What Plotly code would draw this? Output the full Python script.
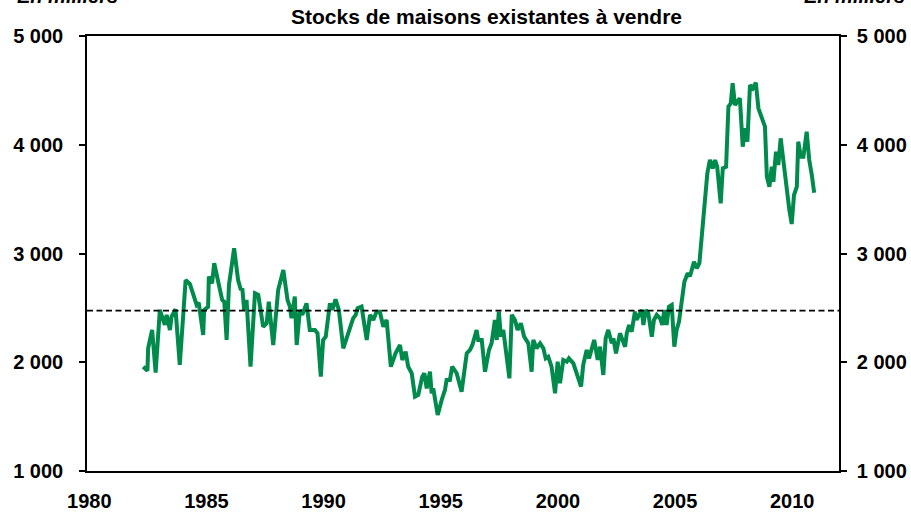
import plotly.graph_objects as go

# -----------------------------
# DATA (thousands of homes)
# -----------------------------
years = [
    1982.30, 1982.48, 1982.51, 1982.68, 1982.83, 1983.01, 1983.15, 1983.22, 1983.30, 1983.44,
    1983.51, 1983.68, 1983.86, 1984.11, 1984.29, 1984.47, 1984.58, 1984.67, 1984.86, 1984.90,
    1985.07, 1985.10, 1985.24, 1985.33, 1985.50, 1985.67, 1985.76, 1985.86, 1985.96, 1986.18,
    1986.35, 1986.47, 1986.53, 1986.61, 1986.71, 1986.88, 1987.07, 1987.21, 1987.42, 1987.57,
    1987.66, 1987.85, 1988.06, 1988.28, 1988.46, 1988.56, 1988.63, 1988.77, 1988.85, 1988.99,
    1989.09, 1989.27, 1989.41, 1989.63, 1989.74, 1989.88, 1989.98, 1990.09, 1990.27, 1990.37,
    1990.51, 1990.65, 1990.84, 1991.02, 1991.26, 1991.37, 1991.45, 1991.62, 1991.84, 1991.98,
    1992.12, 1992.26, 1992.40, 1992.55, 1992.69, 1992.87, 1993.07, 1993.26, 1993.36, 1993.50,
    1993.61, 1993.76, 1993.90, 1994.04, 1994.21, 1994.30, 1994.40, 1994.54, 1994.61, 1994.68,
    1994.87, 1995.04, 1995.18, 1995.25, 1995.39, 1995.49, 1995.68, 1995.89, 1996.11, 1996.25,
    1996.35, 1996.53, 1996.60, 1996.75, 1996.89, 1997.06, 1997.17, 1997.31, 1997.39, 1997.48,
    1997.57, 1997.67, 1997.93, 1998.03, 1998.17, 1998.28, 1998.42, 1998.56, 1998.74, 1998.88,
    1998.95, 1999.09, 1999.24, 1999.38, 1999.48, 1999.59, 1999.73, 1999.88, 1999.99, 2000.09,
    2000.23, 2000.38, 2000.47, 2000.66, 2000.80, 2000.99, 2001.08, 2001.23, 2001.33, 2001.44,
    2001.55, 2001.70, 2001.80, 2001.94, 2002.04, 2002.15, 2002.30, 2002.37, 2002.48, 2002.65,
    2002.87, 2002.94, 2003.04, 2003.15, 2003.22, 2003.29, 2003.36, 2003.48, 2003.58, 2003.65,
    2003.75, 2003.86, 2004.01, 2004.10, 2004.22, 2004.36, 2004.46, 2004.54, 2004.64, 2004.74,
    2004.86, 2004.97, 2005.07, 2005.17, 2005.28, 2005.40, 2005.54, 2005.64, 2005.81, 2005.93,
    2006.04, 2006.14, 2006.28, 2006.38, 2006.49, 2006.61, 2006.71, 2006.80, 2006.95, 2007.04,
    2007.18, 2007.28, 2007.38, 2007.46, 2007.56, 2007.66, 2007.77, 2007.89, 2007.99, 2008.09,
    2008.20, 2008.32, 2008.45, 2008.56, 2008.70, 2008.84, 2008.92, 2009.03, 2009.13, 2009.20,
    2009.31, 2009.41, 2009.51, 2009.63, 2009.77, 2009.88, 2009.98, 2010.08, 2010.20, 2010.26,
    2010.37, 2010.48, 2010.62, 2010.73, 2010.84, 2010.94,
]

stocks = [
    1959, 1922, 2128, 2297, 1904, 2481, 2389, 2343, 2435, 2297,
    2419, 2487, 1975, 2756, 2720, 2588, 2527, 2548, 2251, 2481,
    2511, 2787, 2726, 2910, 2726, 2573, 2557, 2205, 2711, 3048,
    2756, 2664, 2680, 2481, 2573, 1959, 2634, 2619, 2327, 2358,
    2557, 2159, 2664, 2848, 2573, 2511, 2404, 2603, 2159, 2481,
    2435, 2542, 2297, 2297, 2266, 1867, 2205, 2235, 2542, 2481,
    2579, 2481, 2128, 2235, 2404, 2435, 2496, 2511, 2205, 2435,
    2389, 2465, 2465, 2327, 2389, 1959, 2082, 2159, 2021, 2097,
    1959, 1899, 1684, 1699, 1867, 1899, 1760, 1913, 1715, 1760,
    1515, 1653, 1745, 1837, 1837, 1959, 1899, 1730, 2082, 2113,
    2159, 2297, 2205, 2205, 1913, 2113, 2174, 2389, 2205, 2465,
    2235, 2297, 1852, 2435, 2389, 2297, 2358, 2235, 2174, 1913,
    2205, 2128, 2174, 2128, 2036, 2051, 1959, 1715, 2005, 1807,
    2021, 2005, 2036, 1990, 1899, 1776, 1975, 2113, 2036, 2128,
    2205, 2021, 2143, 1883, 2220, 2297, 2174, 2220, 2082, 2266,
    2143, 2266, 2343, 2281, 2404, 2465, 2389, 2450, 2481, 2343,
    2481, 2450, 2235, 2389, 2435, 2404, 2343, 2481, 2343, 2511,
    2527, 2143, 2297, 2373, 2542, 2741, 2818, 2790, 2925, 2864,
    2910, 3155, 3430, 3737, 3860, 3783, 3860, 3798, 3462, 3783,
    3798, 4350, 4381, 4565, 4366, 4396, 4427, 3982, 4151, 4028,
    4549, 4519, 4571, 4335, 4243, 4166, 3706, 3614, 3798, 3660,
    3936, 3814, 4059, 3830, 3554, 3400, 3271, 3538, 3614, 4028,
    3890, 3890, 4120, 3860, 3722, 3559,
]

average_level = 2475

x_ticks = [1980, 1985, 1990, 1995, 2000, 2005, 2010]
y_ticks = [1000, 2000, 3000, 4000, 5000]
y_tick_labels = ["1 000", "2 000", "3 000", "4 000", "5 000"]

title_text = "Stocks de maisons existantes à vendre"
unit_text = "En milliers"

FONT = "Arial, Liberation Sans, sans-serif"
GREEN = "#008A4B"

# -----------------------------
# FIGURE
# -----------------------------
fig = go.Figure()

fig.add_trace(go.Scatter(
    x=years, y=stocks,
    mode="lines",
    line=dict(color=GREEN, width=4),
    showlegend=False,
    hoverinfo="x+y",
))

# dashed long-run level (drawn on the right-hand axis so it shows up)
fig.add_trace(go.Scatter(
    x=[1979.9, 2012.0], y=[average_level, average_level],
    mode="lines",
    line=dict(color="black", width=1.6, dash="6px,3.5px"),
    yaxis="y2",
    showlegend=False,
    hoverinfo="skip",
))

# -----------------------------
# TEXT
# -----------------------------
fig.add_annotation(
    text=f"<b>{title_text}</b>", x=0.531, y=1.044, xref="paper", yref="paper",
    showarrow=False, xanchor="center", yanchor="middle",
    font=dict(family=FONT, size=21, color="black"),
)
fig.add_annotation(
    text=f"<b><i>{unit_text}</i></b>", x=-0.096, y=1.092, xref="paper", yref="paper",
    showarrow=False, xanchor="left", yanchor="middle",
    font=dict(family=FONT, size=20, color="black"),
)
fig.add_annotation(
    text=f"<b><i>{unit_text}</i></b>", x=1.091, y=1.092, xref="paper", yref="paper",
    showarrow=False, xanchor="right", yanchor="middle",
    font=dict(family=FONT, size=20, color="black"),
)

# -----------------------------
# LAYOUT
# -----------------------------
yaxis_common = dict(
    range=[1000, 5000],
    tickvals=y_ticks,
    ticktext=y_tick_labels,
    ticks="outside",
    ticklen=6,
    tickwidth=1.5,
    tickcolor="black",
    showline=True,
    linecolor="black",
    linewidth=1.6,
    showgrid=False,
    zeroline=False,
    automargin=False,
    tickfont=dict(family=FONT, size=20, color="black", weight="bold"),
    fixedrange=True,
)

fig.update_layout(
    width=911,
    height=512,
    margin=dict(l=87, r=72, t=36, b=41),
    plot_bgcolor="white",
    paper_bgcolor="white",
    xaxis=dict(
        range=[1979.9, 2012.0],
        tickvals=x_ticks,
        ticks="",
        showline=True,
        mirror=True,
        linecolor="black",
        linewidth=1.6,
        showgrid=False,
        zeroline=False,
        automargin=False,
        ticklabelstandoff=11,
        tickfont=dict(family=FONT, size=20, color="black", weight="bold"),
    ),
    yaxis=dict(**yaxis_common, side="left", ticklabelstandoff=12),
    yaxis2=dict(**yaxis_common, side="right", overlaying="y", ticklabelstandoff=6),
)

# the page's default body margin would push the fixed-size figure off by 8px
fig.write_html(
    "out.html",
    config={"displayModeBar": False},
    post_script="document.body.style.margin = '0';",
)
